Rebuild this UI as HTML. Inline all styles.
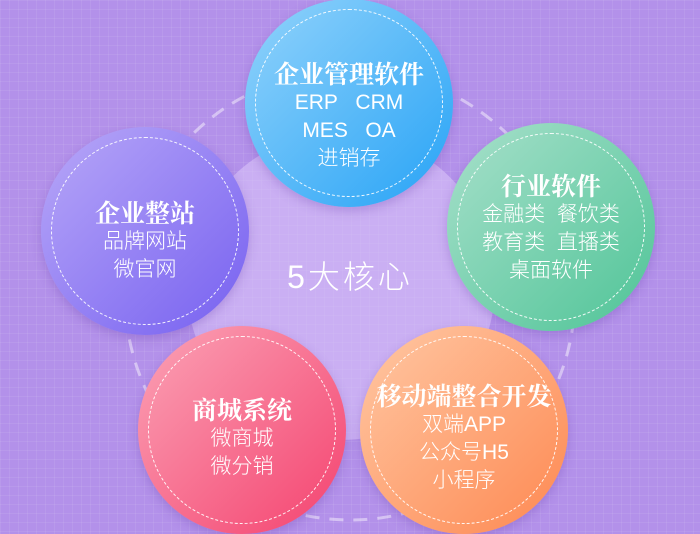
<!DOCTYPE html>
<html><head><meta charset="utf-8"><style>
body{margin:0;width:700px;height:524px;overflow:hidden;position:relative;font-family:"Liberation Sans","Noto Sans CJK SC",sans-serif;
background-color:#b391ea;
background-image:linear-gradient(rgba(255,255,255,0.07) 1px,transparent 1px),linear-gradient(90deg,rgba(255,255,255,0.07) 1px,transparent 1px);
background-size:9px 9px;}
.c{position:absolute;width:208px;height:208px;border-radius:50%;color:#fff;text-align:center;box-shadow:0 4px 10px rgba(90,50,160,0.25);}
.c .d{position:absolute;left:10px;top:10px;right:10px;bottom:10px;border:1px dashed rgba(255,255,255,0.9);border-radius:50%;}
.c .t{position:absolute;left:0;right:0;display:flex;flex-direction:column;align-items:center;}
.h{font-weight:bold;font-size:25px;line-height:31px;font-family:"Noto Serif CJK SC","Liberation Serif",serif;}
.l{font-size:21px;line-height:28px;font-weight:300;}
</style></head><body>
<div style="position:absolute;left:187px;top:132px;width:308px;height:308px;border-radius:50%;background:rgba(220,200,250,0.55)"></div>
<svg style="position:absolute;left:0;top:0" width="700" height="524"><circle cx="350" cy="295" r="225" fill="none" stroke="rgba(255,255,255,0.45)" stroke-width="3" stroke-dasharray="14 10"/></svg>
<div style="position:absolute;left:270px;top:252px;width:160px;text-align:center;color:#fff;font-size:32px;letter-spacing:3px;font-weight:300">5大核心</div>

<div class="c" style="left:245px;top:-1px;background:linear-gradient(135deg,#92d3fb,#27a3f6)"><div class="d"></div>
<div class="t" style="top:59px"><div class="h">企业管理软件</div><div class="l">ERP&nbsp;&nbsp;&nbsp;CRM</div><div class="l">MES&nbsp;&nbsp;&nbsp;OA</div><div class="l">进销存</div></div></div>

<div class="c" style="left:447px;top:123px;background:linear-gradient(135deg,#a8e0cb,#4fc497)"><div class="d"></div>
<div class="t" style="top:47px"><div class="h">行业软件</div><div class="l">金融类&nbsp;&nbsp;餐饮类</div><div class="l">教育类&nbsp;&nbsp;直播类</div><div class="l">桌面软件</div></div></div>

<div class="c" style="left:41px;top:127px;background:linear-gradient(135deg,#b8a8f8,#7660f0)"><div class="d"></div>
<div class="t" style="top:70px"><div class="h">企业整站</div><div class="l">品牌网站</div><div class="l">微官网</div></div></div>

<div class="c" style="left:138px;top:326px;background:linear-gradient(135deg,#fba3b6,#f4426f)"><div class="d"></div>
<div class="t" style="top:68px"><div class="h">商城系统</div><div class="l">微商城</div><div class="l">微分销</div></div></div>

<div class="c" style="left:360px;top:326px;background:linear-gradient(135deg,#ffc8a4,#fe8851)"><div class="d"></div>
<div class="t" style="top:54px"><div class="h" style="white-space:nowrap">移动端整合开发</div><div class="l">双端APP</div><div class="l">公众号H5</div><div class="l">小程序</div></div></div>
</body></html>
